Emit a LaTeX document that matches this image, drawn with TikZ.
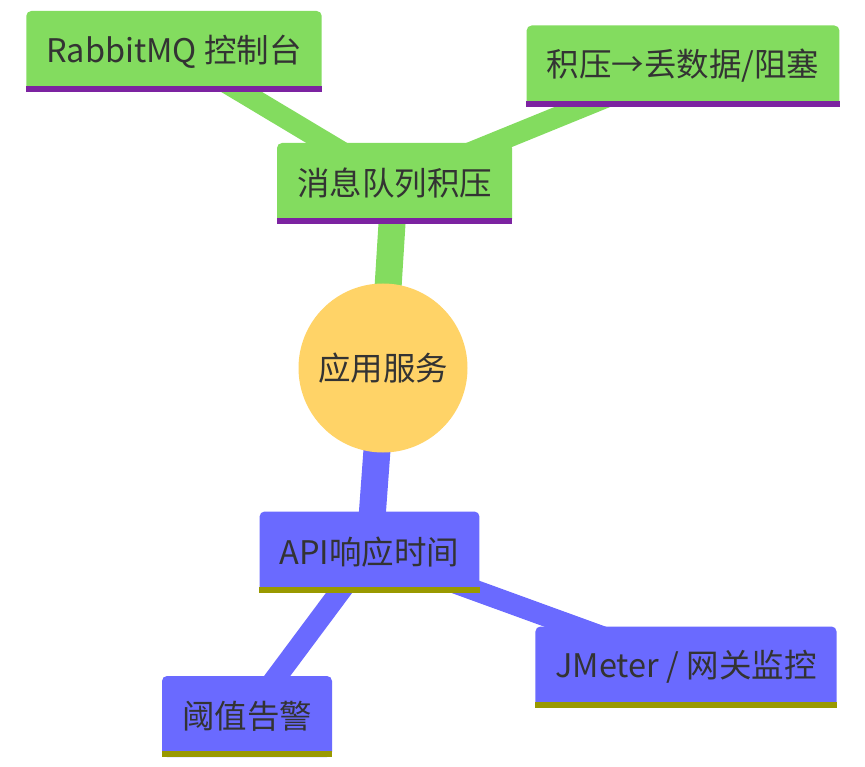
\documentclass[tikz,border=0pt]{standalone}
\usepackage{fontspec}
\setmainfont{Noto Sans CJK SC}
\usetikzlibrary{backgrounds}
\definecolor{leafgreen}{HTML}{83DC5F}
\definecolor{barpurple}{HTML}{7C23A1}
\definecolor{leafblue}{HTML}{6A6AFF}
\definecolor{barolive}{HTML}{999900}
\definecolor{rootyellow}{HTML}{FFD367}
\definecolor{inkgray}{HTML}{333333}

\begin{document}
\begin{tikzpicture}[x=1pt, y=-1pt,
	topic/.style={rectangle, rounded corners=5pt, fill=#1, minimum height=81pt,
		inner xsep=20pt, text=inkgray, font=\fontsize{32.5}{38}\selectfont},
	branch/.style={line width=27pt, draw=#1},
	twig/.style={line width=21pt, draw=#1}]
	\useasboundingbox (0,0) rectangle (865,767);
	\node [circle, fill=rootyellow, minimum size=169pt, text=inkgray,
		font=\fontsize{32.5}{38}\selectfont] (root) at (383,368) {应用服务};
	\node [topic=leafgreen] (queue) at (394.5,183.5) {消息队列积压};
	\node [topic=leafgreen] (rabbit) at (174,51.5) {RabbitMQ 控制台};
	\node [topic=leafgreen] (backlog) at (683,66) {积压→丢数据/阻塞};
	\node [topic=leafblue] (api) at (369.5,552) {API响应时间};
	\node [topic=leafblue] (alarm) at (247,716.5) {阈值告警};
	\node [topic=leafblue] (jmeter) at (686,667) {JMeter / 网关监控};
	% bottom bars
	\foreach \n/\c in {queue/barpurple, rabbit/barpurple, backlog/barpurple,
		api/barolive, alarm/barolive, jmeter/barolive}
		\fill [\c] (\n.south west) rectangle ([yshift=6pt]\n.south east);
	\begin{scope}[on background layer]
		\draw [branch=leafgreen] (root.center) -- (queue.center);
		\draw [twig=leafgreen] (queue.center) -- (rabbit.center);
		\draw [twig=leafgreen] (queue.center) -- (backlog.center);
		\draw [branch=leafblue] (root.center) -- (api.center);
		\draw [twig=leafblue] (api.center) -- (alarm.center);
		\draw [twig=leafblue] (api.center) -- (jmeter.center);
	\end{scope}
\end{tikzpicture}
\end{document}
